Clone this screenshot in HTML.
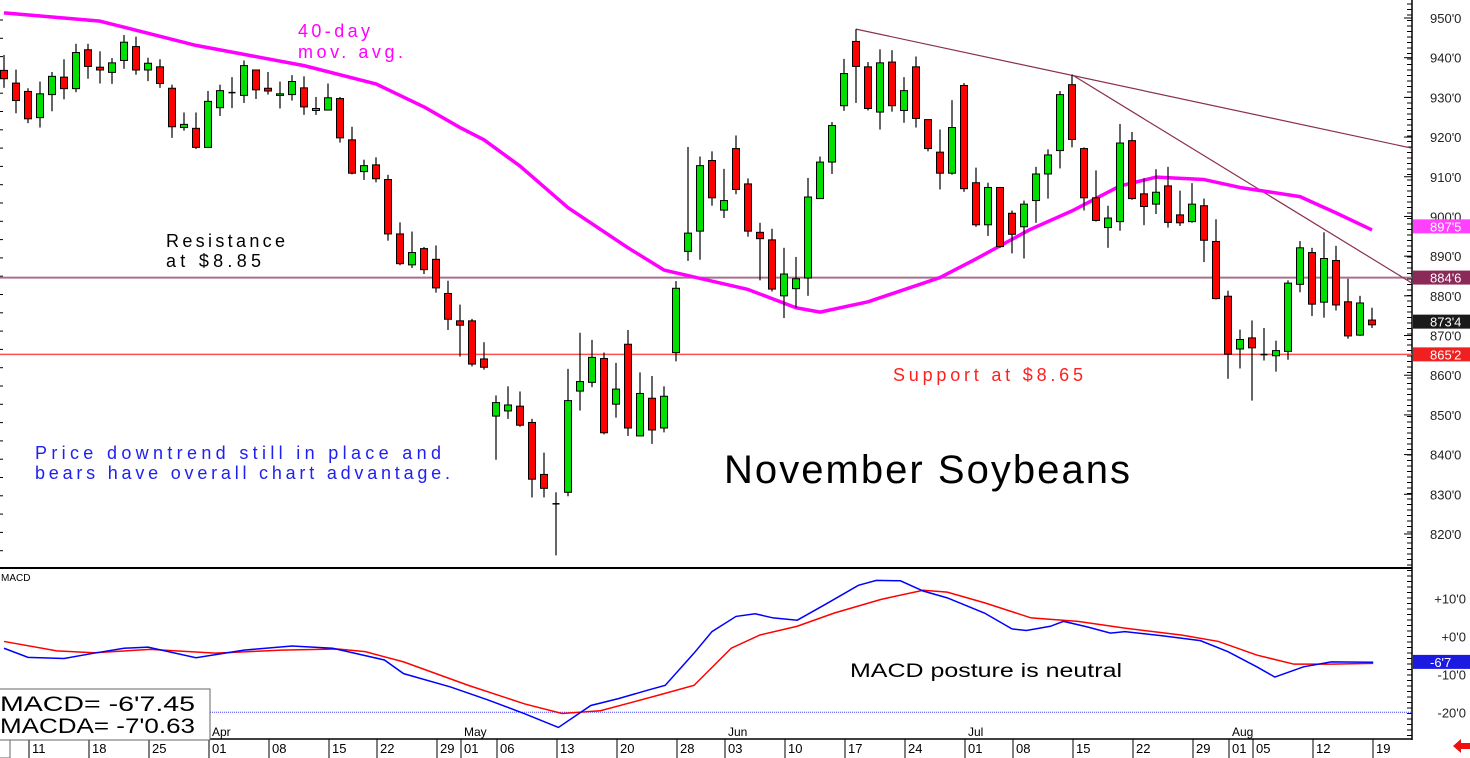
<!DOCTYPE html>
<html><head><meta charset="utf-8"><style>
html,body{margin:0;padding:0;background:#fff;width:1470px;height:758px;overflow:hidden}
svg{display:block;font-family:"Liberation Sans",sans-serif}
</style></head><body>
<svg id="chart" width="1470" height="758" viewBox="0 0 1470 758" xmlns="http://www.w3.org/2000/svg">
<g id="grid"></g>
<g id="lines"></g>
<g id="candles"></g>
<g id="macd"></g>
<g id="labels">
  <text x="298" y="37" font-size="18" fill="#ff00ff" textLength="72" lengthAdjust="spacing">40-day</text>
  <text x="298" y="58" font-size="18" fill="#ff00ff" textLength="105" lengthAdjust="spacing">mov. avg.</text>
  <text x="166" y="247" font-size="18" fill="#000" textLength="119" lengthAdjust="spacing">Resistance</text>
  <text x="166" y="267" font-size="18" fill="#000" textLength="95" lengthAdjust="spacing">at $8.85</text>
  <text x="35" y="459" font-size="18" fill="#2020f0" textLength="406" lengthAdjust="spacing">Price downtrend still in place and</text>
  <text x="35" y="479" font-size="18" fill="#2020f0" textLength="415" lengthAdjust="spacing">bears have overall chart advantage.</text>
  <text x="724" y="483" font-size="40" fill="#000" textLength="406" lengthAdjust="spacing">November Soybeans</text>
  <text x="893" y="381" font-size="18" fill="#ff2020" textLength="190" lengthAdjust="spacing">Support at $8.65</text>
  <text x="850" y="677" font-size="19" fill="#000" textLength="272" lengthAdjust="spacingAndGlyphs">MACD posture is neutral</text>
</g>
</svg>
<script>
// ---- price data [index-aligned] ----
const opens  = [936.8,933.6,931.5,924.9,930.7,935.1,932.2,942.0,937.6,936.3,939.3,942.8,936.9,937.7,932.3,922.4,922.2,917.4,927.4,931.1,930.5,936.9,932.3,930.5,930.7,932.4,926.7,926.8,929.7,919.3,911.3,913.0,909.3,895.6,887.8,891.9,889.2,880.6,873.7,873.7,864.1,849.7,851.0,852.2,848.1,835.0,827.6,830.5,856.0,858.2,864.2,852.7,867.8,844.7,854.2,846.7,865.7,891.2,896.3,914.1,901.6,917.1,908.2,896.0,894.1,880.0,881.8,884.5,904.5,913.7,927.9,944.1,937.7,926.3,938.9,926.7,937.7,924.4,916.2,910.9,933.0,908.5,897.9,907.3,900.8,897.4,904.0,910.7,916.6,933.2,917.1,904.7,897.2,898.7,919.1,905.7,903.1,907.7,900.4,898.7,902.7,893.7,879.9,866.6,869.4,865.2,864.9,866.0,882.9,890.9,878.4,888.9,878.5,870.1,873.9];
const highs  = [940.7,937.0,932.3,934.0,936.4,939.6,943.5,943.5,941.6,939.9,945.7,945.3,940.0,939.6,933.2,926.2,926.2,931.6,933.2,935.1,939.3,937.0,936.4,934.0,935.6,935.3,930.1,933.5,930.1,922.6,914.3,914.9,910.5,898.5,896.2,892.3,892.7,883.8,877.8,874.2,868.3,854.9,857.2,855.9,849.0,840.5,830.5,861.6,870.7,868.9,865.7,863.1,871.4,860.7,859.8,857.2,883.7,917.5,915.1,916.4,912.0,920.4,909.6,898.4,896.9,892.1,889.8,909.7,915.1,923.8,939.7,947.2,938.9,942.1,941.9,935.1,940.3,924.4,921.9,929.3,933.6,912.3,908.5,907.4,901.5,904.0,912.5,916.9,931.6,935.7,917.4,911.6,902.7,923.3,921.3,909.6,911.9,912.5,906.5,908.4,904.5,899.3,881.3,871.5,873.8,871.9,868.7,883.9,893.8,892.1,896.0,892.6,884.3,880.0,877.0];
const lows   = [932.4,926.0,923.5,922.4,926.5,929.5,931.3,934.7,933.5,933.4,937.2,935.7,934.1,932.4,919.8,921.6,917.0,917.4,925.3,927.3,928.6,929.6,930.7,927.2,929.2,925.6,925.6,926.7,918.6,910.6,909.2,908.6,893.9,887.7,887.0,885.5,880.8,871.4,864.7,862.2,861.4,838.7,849.0,847.0,829.2,829.2,814.6,829.5,851.1,857.0,845.1,849.3,844.7,844.7,842.7,845.6,863.5,888.8,889.1,902.7,899.6,905.6,894.9,883.9,881.1,874.4,877.0,880.0,904.5,910.7,926.6,928.6,926.7,921.9,926.4,923.6,922.4,916.4,906.8,910.5,906.2,897.4,895.1,892.1,890.7,889.4,898.4,904.5,912.1,917.4,901.5,898.7,892.1,896.4,904.2,897.8,900.6,897.2,897.6,898.4,888.5,879.1,859.1,861.7,853.6,863.7,860.9,863.9,880.9,874.9,874.5,876.3,869.2,869.9,871.9];
const closes = [934.7,929.2,924.6,930.9,935.3,932.2,941.3,937.8,936.9,938.7,943.9,936.9,938.6,933.5,922.6,923.2,917.4,929.0,931.7,931.2,938.0,931.9,931.6,930.9,934.0,927.6,927.2,929.9,919.8,910.9,912.8,909.5,895.6,888.1,890.9,886.6,882.0,874.1,872.6,862.8,862.0,853.1,852.5,847.4,833.8,831.5,827.6,853.6,858.4,864.5,845.5,856.5,846.7,855.4,846.2,854.7,881.9,895.8,912.8,904.7,904.0,906.8,896.3,894.4,881.7,885.5,884.3,904.9,913.7,922.9,936.0,937.8,927.2,938.7,927.9,931.7,924.7,917.1,910.9,922.4,907.0,897.9,907.3,892.4,895.5,903.1,910.7,915.5,930.7,919.4,904.7,899.0,899.6,918.5,904.5,902.5,906.1,898.5,898.4,903.1,894.0,879.3,865.3,869.0,866.9,865.2,866.2,883.2,892.1,877.9,889.4,877.7,869.9,878.2,872.7];
// 40-day moving average (index, value)
const maIdx = [0,8,16,25,31,35,38,40,43,47,52,55,62,66,68,72,78,81,85.5,89,93,96,100,103,108,111,114];
const maVal = [951.3,949.2,943.1,938.0,933.4,927.6,922.4,919.3,912.7,902.2,892.1,886.5,881.6,877.0,875.9,878.5,884.6,889.3,896.7,901.4,907.7,909.9,909.3,907.3,905.0,900.9,896.6];
// MACD lines (index, value)
const macdIdx = [0,2,5,7.5,10,12,16,20,24,27.4,31.7,33.3,37.2,40.3,43.4,46.2,48.9,51.2,53.6,55.1,57.5,59,61,62.6,64.1,66.1,68.4,71.2,72.7,74.7,76.6,78.6,81.7,84,85.2,87.2,88.3,90.3,92.2,93.4,96.5,99.7,102,104.4,105.9,108.3,110.6,114.1];
const macdVal = [-3.1,-5.5,-5.8,-4.4,-3.1,-2.8,-5.6,-3.6,-2.5,-3.1,-6.2,-9.8,-13.3,-16.7,-20.4,-24,-18.2,-16.4,-14.2,-12.9,-4.4,1.3,5.3,6,4.9,4.3,8.4,13.5,14.8,14.7,12,10.2,6.2,2,1.6,2.7,4,2.5,0.9,1.3,0.2,-1.1,-4,-8,-10.7,-8,-6.7,-6.8];
const sigIdx = [0,4.4,7.5,12.2,17.6,23.1,27.8,30.1,33.3,38.7,43.4,46.5,49.7,54.4,57.5,60.6,63,66.1,69.2,73.1,76.6,78.6,81.7,85.6,89.5,93.4,98.1,101.2,104.4,107.5,110.6,114.1];
const sigVal = [-1.3,-3.8,-4.3,-3.4,-4.4,-3.6,-3.3,-4,-6.7,-12.9,-17.8,-20.3,-19.6,-15.6,-12.9,-3.1,0.4,2.7,6.2,9.8,12.2,11.7,8.9,4.9,4,2.2,0.4,-1.3,-4.9,-7.3,-7.3,-7.1];
const priceTicks = [950,940,930,920,910,900,890,880,870,860,850,840,830,820];
const macdTicks = [10,0,-10,-20];
const macdTickLabels = ["+10'0","+0'0","-10'0","-20'0"];
const dateLabels = ["11","18","25","01","08","15","22","29","01","06","13","20","28","03","10","17","24","01","08","15","22","29","01","05","12","19"];
const dateIdx = [2,7,12,17,22,27,31,36,38,41,46,51,56,60,65,70,75,80,84,89,94,99,102,104,109,114];
const months = ["Apr","May","Jun","Jul","Aug"];
const monthIdx = [17,38,60,80,102];
const resistance = 884.6, support = 865.25, lastMA = 897.5, lastClose = 873.5, lastMacd = -6.7;
const trend1 = [71,947.2,117.33,917.2];
const trend2 = [89,935.7,117.33,883.2];

const NS="http://www.w3.org/2000/svg";
const X = i => 4 + 12*i;
const Y = p => 18 + (950-p)*3.969;
const MY = v => 636.5 - v*3.79;
function mk(tag, attrs, parent){const e=document.createElementNS(NS,tag);for(const k in attrs)e.setAttribute(k,attrs[k]);parent.appendChild(e);return e;}
const grid=document.getElementById('grid'), lines=document.getElementById('lines'), cg=document.getElementById('candles'), mg=document.getElementById('macd');

let e;
e=mk('line',{x1:1412,y1:0,x2:1412,y2:740,stroke:'#000','stroke-width':1.5},grid);


e=mk('line',{x1:0,y1:568,x2:1412,y2:568,stroke:'#000','stroke-width':2},grid);


e=mk('line',{x1:0,y1:739,x2:1412,y2:739,stroke:'#000','stroke-width':1.5},grid);


for(let y=4;y<740;y+=5.5){mk('line',{x1:1407,y1:y,x2:1412,y2:y,stroke:'#000','stroke-width':1},grid);}
for(let y=20;y<560;y+=18.3){mk('line',{x1:0,y1:y,x2:3,y2:y,stroke:'#000','stroke-width':1},grid);}
priceTicks.forEach(p=>{
  const t=mk('text',{x:1430,y:Y(p)+5,'font-size':13,fill:'#222'},grid);t.textContent=p+"'0";
  
  
  mk('line',{x1:1404,y1:Y(p),x2:1412,y2:Y(p),stroke:'#000'},grid);
});
macdTicks.forEach((v,i)=>{
  const t=mk('text',{x:1466,y:MY(v)+5,'font-size':13,fill:'#222','text-anchor':'end'},grid);t.textContent=macdTickLabels[i];
  
  
});
dateLabels.forEach((d,i)=>{
  const x=X(dateIdx[i])+1;
  mk('line',{x1:x,y1:739,x2:x,y2:758,stroke:'#000'},grid);
  const t=mk('text',{x:x+3,y:753,'font-size':13,fill:'#000'},grid);t.textContent=d;
  
  
});
months.forEach((m,i)=>{
  const t=mk('text',{x:X(monthIdx[i])+4,y:736,'font-size':12,fill:'#000'},grid);t.textContent=m;
  
  
});

e=mk('line',{x1:0,y1:Y(resistance),x2:1412,y2:Y(resistance),stroke:'#a8708c','stroke-width':2},lines);


e=mk('line',{x1:0,y1:Y(support),x2:1412,y2:Y(support),stroke:'#ff5050','stroke-width':1.5},lines);


[trend1,trend2].forEach(t=>{
  const l=mk('line',{x1:X(t[0]),y1:Y(t[1]),x2:X(t[2]),y2:Y(t[3]),stroke:'#8a3050','stroke-width':1.2},lines);
  
  
});
e=mk('polyline',{points:maIdx.map((v,i)=>X(v)+','+Y(maVal[i])).join(' '),fill:'none',stroke:'#ff00ff','stroke-width':3.5,'stroke-linejoin':'round'},lines);



opens.forEach((o,i)=>{
  const c=closes[i],x=X(i),up=c>=o;
  const g=mk('g',{},cg);
  
  
  mk('line',{x1:x,y1:Y(highs[i]),x2:x,y2:Y(lows[i]),stroke:'#000','stroke-width':1.2},g);
  const top=Y(Math.max(o,c)),bot=Y(Math.min(o,c));
  if(bot-top<1.5){mk('line',{x1:x-3.5,y1:top,x2:x+3.5,y2:top,stroke:up?'#000':'#e00','stroke-width':1.5},g);}
  else mk('rect',{x:x-3.5,y:top,width:7,height:bot-top,fill:up?'#00e000':'#ff0000',stroke:'#000','stroke-width':1},g);
});

function tag(p,bg,txt,name){
  const g=mk('g',{},grid);
  
  
  mk('rect',{x:1413,y:p-7,width:57,height:14,fill:bg},g);
  const t=mk('text',{x:1430,y:p+5,'font-size':13,fill:'#fff'},g);t.textContent=txt;
}
tag(Y(lastMA),'#ff40ff',"897'5",'ma-price-tag');
tag(Y(resistance),'#8b2a58',"884'6",'resistance-price-tag');
tag(Y(lastClose),'#1a1a1a',"873'4",'last-price-tag');
tag(Y(support),'#f02020',"865'2",'support-price-tag');

e=mk('line',{x1:210,y1:MY(-20),x2:1412,y2:MY(-20),stroke:'#4040ff','stroke-width':1,'stroke-dasharray':'1,1'},mg);


e=mk('polyline',{points:sigIdx.map((v,i)=>X(v)+','+MY(sigVal[i])).join(' '),fill:'none',stroke:'#ff0000','stroke-width':1.5},mg);


e=mk('polyline',{points:macdIdx.map((v,i)=>X(v)+','+MY(macdVal[i])).join(' '),fill:'none',stroke:'#0000ff','stroke-width':1.5},mg);


e=mk('text',{x:1,y:581,'font-size':10,fill:'#000'},mg);e.textContent='MACD';


const tg=mk('g',{},mg);


mk('rect',{x:1413,y:MY(lastMacd)-7,width:57,height:14,fill:'#1a1ae0'},tg);
e=mk('text',{x:1430,y:MY(lastMacd)+5,'font-size':13,fill:'#fff'},tg);e.textContent="-6'7";
const vb=mk('g',{},mg);


mk('rect',{x:-1,y:689,width:211,height:51,fill:'#fff',stroke:'#666','stroke-width':1},vb);
mk('rect',{x:-1,y:740,width:11,height:18,fill:'#fff',stroke:'#666','stroke-width':1},vb);
e=mk('text',{x:0,y:711,'font-size':21,fill:'#000',textLength:195,lengthAdjust:'spacingAndGlyphs'},vb);e.textContent="MACD=   -6'7.45";
e=mk('text',{x:0,y:733,'font-size':21,fill:'#000',textLength:195,lengthAdjust:'spacingAndGlyphs'},vb);e.textContent="MACDA= -7'0.63";
e=mk('polygon',{points:'1453,746 1461,739 1461,743 1470,743 1470,749 1461,749 1461,753',fill:'#ee1010'},grid);


</script>
</body></html>
